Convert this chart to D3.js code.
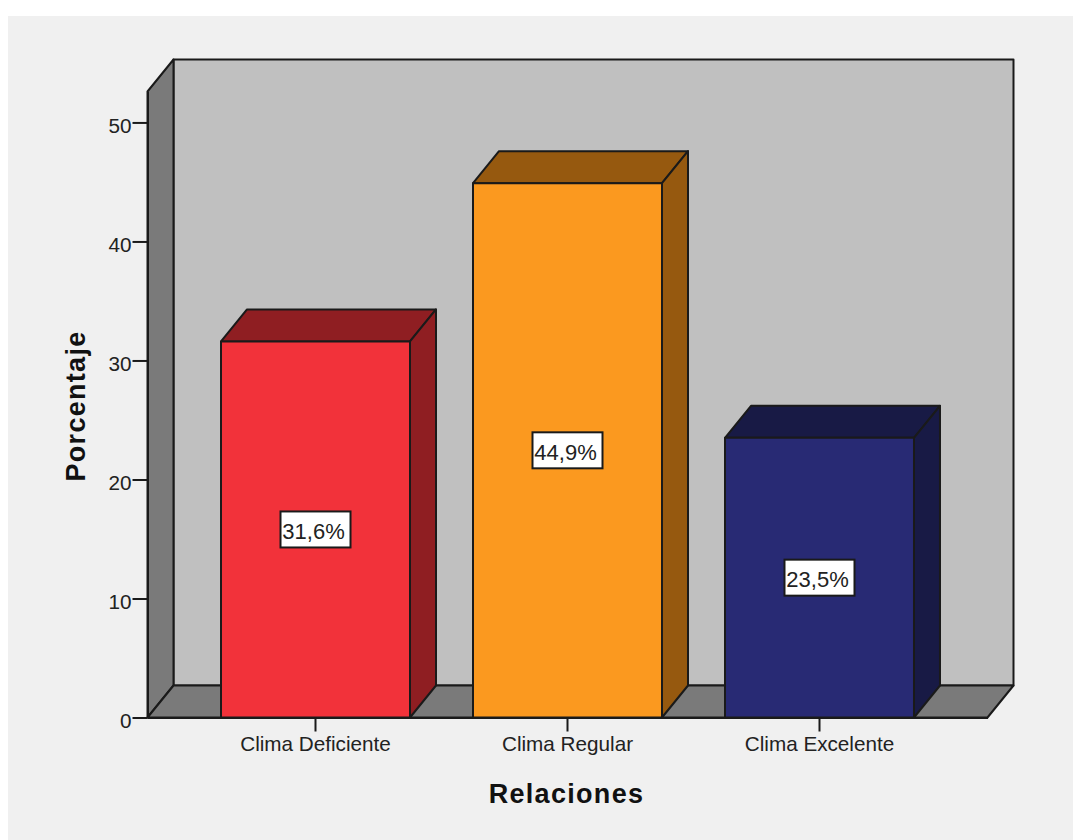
<!DOCTYPE html>
<html>
<head>
<meta charset="utf-8">
<script src="https://cdn.jsdelivr.net/npm/d3@7/dist/d3.min.js"></script>
<style>
  html, body { margin: 0; padding: 0; background: #fff; }
  svg { display: block; }
  text { font-family: "Liberation Sans", Arial, sans-serif; fill: #222; }
  .axis text { font-size: 20.7px; }
  .axis path, .axis line { stroke: #1a1a1a; stroke-width: 2px; }
  .frame { stroke: #1a1a1a; stroke-width: 2px; stroke-linejoin: round; }
  .title { font-size: 27px; font-weight: bold; letter-spacing: 1.3px; fill: #111; }
</style>
</head>
<body>
<svg id="chart" width="1073" height="840"></svg>
<script>
// Data
const categories = ["Clima Deficiente", "Clima Regular", "Clima Excelente"];
const percents = [31.6, 44.9, 23.5];
const yTicks = [0, 10, 20, 30, 40, 50];
const frontColors = ["#f2323a", "#fb991f", "#282a74"];
const sideColors = ["#8f1e22", "#96590f", "#181a45"];

const xTitle = "Relaciones",
    yTitle = "Porcentaje";

// 3D offset of the back plane
const depthX = 26,
    depthY = -32;

let svg = d3.select("#chart");

svg.append("rect")
    .attr("x", 8).attr("y", 16)
    .attr("width", 1065).attr("height", 824)
    .attr("fill", "#f0f0f0");

let xScale = d3.scaleBand()
    .domain(categories)
    .range([147.5, 987.5])
    .paddingInner(0.25)
    .paddingOuter(0.2917);

let yScale = d3.scaleLinear()
    .domain([0, 52.6])
    .range([717.5, 91.5]);

const x0 = xScale.range()[0],
    x1 = xScale.range()[1],
    y0 = yScale(0),
    yTop = yScale(yScale.domain()[1]);

function poly(points, fill) {
    return svg.append("polygon")
        .attr("class", "frame")
        .attr("points", points.map(p => p.join(",")).join(" "))
        .attr("fill", fill);
}

// back wall, left wall, floor
poly([[x0 + depthX, yTop + depthY], [x1 + depthX, yTop + depthY], [x1 + depthX, y0 + depthY], [x0 + depthX, y0 + depthY]], "#c0c0c0");
poly([[x0, yTop], [x0 + depthX, yTop + depthY], [x0 + depthX, y0 + depthY], [x0, y0]], "#7a7a7a");
poly([[x0, y0], [x0 + depthX, y0 + depthY], [x1 + depthX, y0 + depthY], [x1, y0]], "#7a7a7a");

// bars: front, top and side faces
categories.forEach((c, i) => {
    let left = xScale(c),
        right = left + xScale.bandwidth(),
        top = yScale(percents[i]);
    poly([[left, top], [left + depthX, top + depthY], [right + depthX, top + depthY], [right, top]], sideColors[i]);
    poly([[right, top], [right + depthX, top + depthY], [right + depthX, y0 + depthY], [right, y0]], sideColors[i]);
    poly([[left, top], [right, top], [right, y0], [left, y0]], frontColors[i]);
});

// axes
svg.append("g")
    .attr("class", "axis")
    .attr("transform", `translate(${x0},0)`)
    .call(d3.axisLeft(yScale).tickValues(yTicks).tickSize(15).tickSizeOuter(0).tickPadding(1))
    .selectAll("text")
    .attr("dy", "0.5em");

svg.append("g")
    .attr("class", "axis")
    .attr("transform", `translate(0,${y0})`)
    .call(d3.axisBottom(xScale).tickSize(14).tickSizeOuter(0).tickPadding(5));

// value labels in the middle of each bar
let labels = svg.append("g")
    .selectAll("g")
    .data(categories)
    .join("g")
    .attr("transform", (c, i) =>
        `translate(${xScale(c) + xScale.bandwidth() / 2},${(yScale(percents[i]) + y0) / 2})`);

labels.append("rect")
    .attr("x", -35).attr("y", -18)
    .attr("width", 70).attr("height", 36)
    .attr("fill", "#fff")
    .attr("stroke", "#1a1a1a")
    .attr("stroke-width", 2);

labels.append("text")
    .attr("x", -2)
    .attr("text-anchor", "middle")
    .attr("dy", "0.42em")
    .attr("font-size", 22)
    .text((c, i) => d3.format(".1f")(percents[i]).replace(".", ",") + "%");

// axis titles
svg.append("text")
    .attr("class", "title")
    .attr("x", 566.5).attr("y", 803)
    .attr("text-anchor", "middle")
    .text(xTitle);

svg.append("text")
    .attr("class", "title")
    .attr("transform", "translate(85,406) rotate(-90)")
    .attr("text-anchor", "middle")
    .text(yTitle);
</script>
</body>
</html>
